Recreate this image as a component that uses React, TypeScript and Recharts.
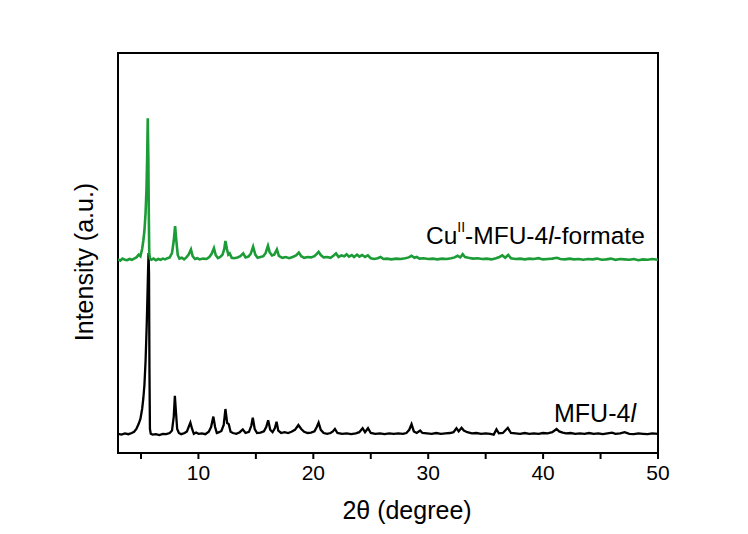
import React from 'react';
import { LineChart, Line, XAxis, YAxis, ReferenceArea, Customized } from 'recharts';

const xTicks = [5, 10, 15, 20, 25, 30, 35, 40, 45, 50];

const mfuX = [3.0, 3.3, 3.6, 3.9, 4.2, 4.4, 4.6, 4.8, 4.95, 5.1, 5.2, 5.3, 5.4, 5.5, 5.57, 5.62, 5.66, 5.7, 5.74, 5.78, 5.85, 6.0, 6.3, 6.6, 6.9, 7.2, 7.5, 7.7, 7.85, 7.95, 8.05, 8.15, 8.3, 8.5, 8.8, 9.0, 9.15, 9.3, 9.45, 9.6, 9.8, 10.0, 10.3, 10.6, 10.9, 11.1, 11.3, 11.45, 11.6, 11.8, 12.0, 12.2, 12.35, 12.5, 12.64, 12.8, 13.0, 13.3, 13.6, 13.86, 14.1, 14.4, 14.6, 14.73, 14.9, 15.1, 15.4, 15.7, 15.9, 16.07, 16.25, 16.45, 16.65, 16.8, 16.95, 17.2, 17.5, 17.8, 18.1, 18.4, 18.7, 18.95, 19.2, 19.5, 19.8, 20.1, 20.3, 20.46, 20.65, 20.9, 21.2, 21.5, 21.7, 21.88, 22.1, 22.5, 22.9, 23.3, 23.7, 24.0, 24.29, 24.5, 24.76, 25.0, 25.4, 25.8, 26.2, 26.6, 27.0, 27.4, 27.8, 28.1, 28.35, 28.55, 28.75, 29.0, 29.3, 29.5, 29.9, 30.3, 30.7, 31.1, 31.5, 31.9, 32.2, 32.46, 32.65, 32.9, 33.1, 33.4, 33.8, 34.2, 34.6, 35.0, 35.4, 35.7, 35.94, 36.15, 36.5, 36.93, 37.2, 37.6, 38.0, 38.4, 38.8, 39.2, 39.6, 40.0, 40.4, 40.8, 41.17, 41.4, 41.7, 42.0, 42.4, 42.8, 43.2, 43.6, 44.0, 44.4, 44.8, 45.2, 45.6, 46.0, 46.3, 46.7, 47.1, 47.5, 47.9, 48.3, 48.7, 49.1, 49.5, 50.0];
const mfuY = [4.8, 4.6, 4.9, 4.7, 5.0, 5.3, 6.0, 7.3, 8.5, 11, 13.5, 17, 23, 32, 40, 46, 50, 45, 20, 6, 4.8, 4.6, 4.7, 4.5, 4.8, 4.7, 5.0, 5.6, 9, 14.3, 10, 6, 5, 4.7, 5.0, 5.4, 6.5, 7.6, 6, 4.8, 5.1, 4.8, 4.9, 4.7, 5.3, 6.5, 9.1, 6.5, 5.0, 5.2, 5.5, 7, 11, 7.5, 7.2, 5.3, 5.0, 4.8, 5.2, 5.9, 5.0, 5.3, 6.8, 8.8, 6.0, 5.0, 5.1, 5.4, 6.5, 8.2, 5.8, 5.2, 6.2, 7.8, 5.6, 5.0, 5.2, 5.0, 5.3, 5.8, 7.0, 6.0, 5.3, 5.0, 5.1, 5.4, 6.5, 7.6, 5.8, 5.0, 4.8, 5.0, 5.4, 6.0, 5.0, 4.8, 4.9, 4.7, 4.9, 5.2, 6.2, 5.2, 6.2, 5.0, 4.8, 4.9, 4.7, 4.9, 4.8, 4.9, 4.8, 5.0, 5.8, 7.2, 5.4, 5.0, 5.6, 5.0, 4.9, 4.8, 5.0, 4.8, 4.9, 5.0, 5.2, 6.2, 5.4, 6.3, 5.6, 5.2, 4.9, 5.0, 4.8, 4.9, 4.8, 4.6, 5.9, 4.9, 5.0, 6.3, 5.0, 4.9, 4.8, 5.0, 4.8, 4.9, 4.8, 5.0, 4.9, 5.2, 6.0, 5.4, 5.1, 4.9, 5.0, 4.8, 4.9, 4.8, 5.0, 4.8, 4.9, 4.7, 4.9, 5.1, 4.8, 4.9, 5.2, 4.8, 4.7, 4.9, 4.8, 4.7, 4.9, 4.8];

const cuX = [3.0, 3.2, 3.4, 3.6, 3.8, 4.0, 4.2, 4.4, 4.6, 4.8, 4.95, 5.1, 5.2, 5.3, 5.4, 5.48, 5.54, 5.59, 5.64, 5.68, 5.72, 5.78, 5.9, 6.1, 6.3, 6.5, 6.7, 6.9, 7.1, 7.3, 7.5, 7.7, 7.85, 7.97, 8.08, 8.2, 8.35, 8.55, 8.75, 8.95, 9.15, 9.35, 9.5, 9.7, 9.9, 10.1, 10.4, 10.7, 10.95, 11.15, 11.35, 11.5, 11.7, 11.9, 12.1, 12.25, 12.35, 12.48, 12.6, 12.72, 12.9, 13.1, 13.4, 13.65, 13.9, 14.1, 14.35, 14.55, 14.76, 14.95, 15.15, 15.4, 15.65, 15.85, 16.05, 16.2, 16.4, 16.6, 16.83, 17.0, 17.3, 17.6, 17.9, 18.2, 18.5, 18.74, 18.95, 19.2, 19.5, 19.8, 20.1, 20.3, 20.46, 20.65, 20.9, 21.2, 21.5, 21.75, 21.98, 22.2, 22.45, 22.7, 22.9, 23.1, 23.35, 23.55, 23.8, 24.0, 24.25, 24.5, 24.75, 25.0, 25.3, 25.6, 25.85, 26.1, 26.4, 26.8, 27.2, 27.6, 28.0, 28.3, 28.55, 28.8, 29.0, 29.25, 29.6, 30.0, 30.4, 30.8, 31.2, 31.6, 32.0, 32.3, 32.55, 32.8, 33.0, 33.2, 33.5, 33.9, 34.3, 34.7, 35.1, 35.5, 35.9, 36.2, 36.45, 36.7, 36.96, 37.2, 37.6, 38.0, 38.4, 38.8, 39.2, 39.6, 40.0, 40.4, 40.8, 41.2, 41.5, 41.9, 42.3, 42.7, 43.1, 43.5, 43.9, 44.3, 44.7, 45.1, 45.5, 45.9, 46.3, 46.7, 47.1, 47.5, 47.9, 48.3, 48.7, 49.1, 49.5, 50.0];
const cuY = [48.4, 48.1, 48.6, 48.3, 48.2, 48.5, 48.3, 48.6, 48.9, 49.6, 49.2, 51, 53, 55.5, 60, 66, 74, 83.7, 74, 60, 50, 48.6, 48.3, 48.6, 48.2, 48.5, 48.3, 48.6, 48.4, 48.7, 48.9, 50, 53, 56.75, 53, 49.5, 48.6, 48.8, 48.4, 48.9, 49.6, 50.9, 49.2, 48.5, 48.7, 48.4, 48.6, 48.5, 49.0, 49.8, 51.2, 49.5, 48.7, 49.0, 49.6, 51, 53, 51, 49.6, 49.9, 48.8, 48.7, 48.9, 49.2, 49.9, 48.9, 49.1, 49.8, 51.6, 49.6, 48.8, 49.0, 49.2, 50.0, 51.8, 50.2, 49.4, 49.6, 50.9, 49.3, 48.8, 49.0, 48.7, 49.0, 49.4, 50.1, 49.2, 48.8, 49.0, 48.9, 49.2, 49.8, 50.3, 49.5, 48.9, 49.0, 48.8, 49.3, 49.9, 49.0, 49.4, 49.2, 49.7, 49.1, 49.5, 49.0, 49.6, 49.1, 49.5, 49.0, 49.4, 48.7, 48.5, 48.7, 49.0, 48.5, 48.6, 48.4, 48.6, 48.5, 48.7, 48.9, 49.3, 48.8, 49.0, 48.6, 48.7, 48.5, 48.6, 48.4, 48.6, 48.5, 48.7, 48.9, 49.3, 48.9, 49.7, 49.0, 48.8, 48.6, 48.7, 48.5, 48.6, 48.4, 48.7, 49.0, 49.4, 48.8, 49.5, 48.7, 48.5, 48.6, 48.4, 48.6, 48.5, 48.7, 48.4, 48.5, 48.6, 48.8, 48.5, 48.4, 48.6, 48.4, 48.5, 48.3, 48.5, 48.4, 48.6, 48.3, 48.4, 48.6, 48.3, 48.5, 48.4, 48.3, 48.5, 48.2, 48.4, 48.3, 48.5, 48.3];

const mfuData = mfuX.map((x, i) => ({ x, y: mfuY[i] }));
const cuData = cuX.map((x, i) => ({ x, y: cuY[i] }));

const FONT = "'Liberation Sans', Arial, sans-serif";
const GREEN = '#1c9c36';

const Labels = () => (
  <g fontFamily={FONT}>
    <text x={418} y={236} fontSize={24.5} fill="#000">
      <tspan fill="#000">Cu</tspan>
      <tspan fill="#000" fontSize={14} dy={-12}>II</tspan>
      <tspan fill="#000" dy={12}>-MFU-4</tspan>
      <tspan fill="#000" fontStyle="italic">l</tspan>
      <tspan fill="#000">-formate</tspan>
    </text>
    <text x={546} y={414} fontSize={25} fill="#000">
      MFU-4<tspan fontStyle="italic">l</tspan>
    </text>
    <text x={85} y={254} fontSize={25} fill="#000" textAnchor="middle" transform="rotate(-90 85 254)">
      Intensity (a.u.)
    </text>
    <text x={399} y={511} fontSize={25} fill="#000" textAnchor="middle">
      2θ (degree)
    </text>
  </g>
);

export default function App() {
  return (
    <LineChart
      width={732}
      height={518}
      margin={{ top: 45, right: 82, left: 110, bottom: 0 }}
    >
      <XAxis
        type="number"
        dataKey="x"
        domain={[3, 50]}
        ticks={xTicks}
        allowDataOverflow
        height={73}
        tickFormatter={(v: number) => (v % 10 === 0 ? String(v) : '')}
        tick={{ fill: '#000', fontSize: 21, fontFamily: FONT }}
        tickSize={6}
        tickMargin={6}
        axisLine={{ stroke: '#000', strokeWidth: 2 }}
        tickLine={{ stroke: '#000', strokeWidth: 2 }}
      />
      <YAxis type="number" domain={[0, 100]} hide allowDataOverflow />
      <Line
        data={mfuData}
        dataKey="y"
        type="linear"
        stroke="#000"
        strokeWidth={2.3}
        dot={false}
        isAnimationActive={false}
      />
      <Line
        data={cuData}
        dataKey="y"
        type="linear"
        stroke={GREEN}
        strokeWidth={2.6}
        dot={false}
        isAnimationActive={false}
      />
      <ReferenceArea
        x1={3}
        x2={50}
        y1={0}
        y2={100}
        fill="none"
        fillOpacity={0}
        stroke="#000"
        strokeWidth={2}
      />
      <Customized component={Labels} />
    </LineChart>
  );
}
